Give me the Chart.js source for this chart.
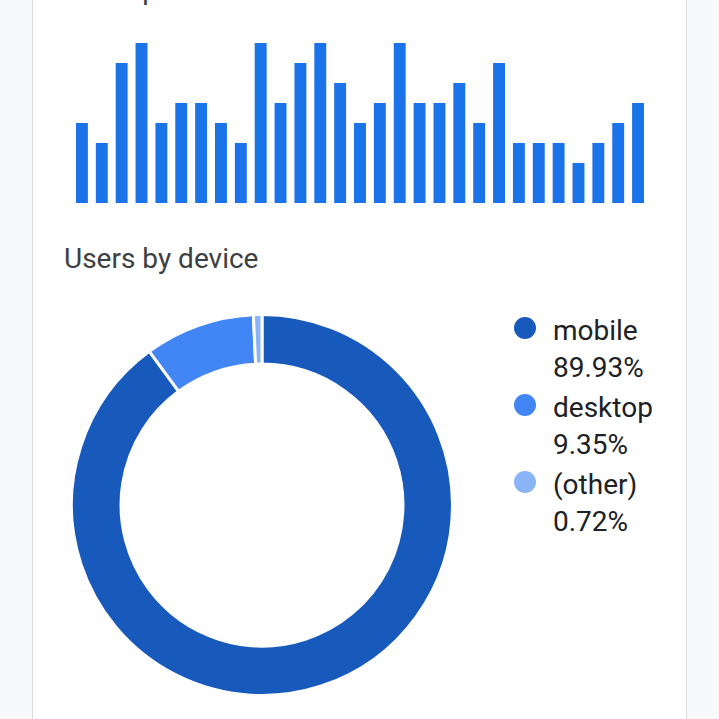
<!DOCTYPE html>
<html>
<head>
<meta charset="utf-8">
<script src="https://cdn.jsdelivr.net/npm/chart.js@4.4.1/dist/chart.umd.min.js"></script>
<style>
  html, body { margin: 0; padding: 0; }
  body { width: 719px; height: 719px; background: #f8f9fa; overflow: hidden; position: relative; font-family: Roboto, "Noto Sans", sans-serif; }
  .card { position: absolute; left: 32px; top: -10px; width: 653px; height: 740px; background: #fff; border-left: 1px solid #dadce0; border-right: 1px solid #dadce0; }
  .title { position: absolute; left: 64px; font-size: 28px; line-height: 34px; color: #3c4043; white-space: nowrap; }
  #barBox { position: absolute; left: 72px; top: 43px; width: 576px; height: 160px; }
  #pieBox { position: absolute; left: 70px; top: 313px; width: 384px; height: 384px; }
  #legend { position: absolute; left: 514px; top: 312px; color: #202124; font-size: 28px; line-height: 37px; }
  .item { position: relative; padding-left: 39px; margin-bottom: 3px; }
  .dot { position: absolute; left: 0; top: 5px; width: 22px; height: 22px; border-radius: 50%; }
</style>
</head>
<body>
<div class="card"></div>
<div class="title" style="top:-27px">Users per minute</div>
<div id="barBox"><canvas id="barChart"></canvas></div>
<div class="title" style="top:242px">Users by device</div>
<div id="pieBox"><canvas id="pieChart"></canvas></div>
<div id="legend"></div>
<script>
// users per minute (last 30 min)
const minuteLabels = [];
for (let i = 29; i >= 1; i--) minuteLabels.push(i + ' min');
const minuteUsers = [4, 3, 7, 8, 4, 5, 5, 4, 3, 8, 5, 7, 8, 6, 4, 5, 8, 5, 5, 6, 4, 7, 3, 3, 3, 2, 3, 4, 5];

// users by device
const devices = ['mobile', 'desktop', '(other)'];
const deviceShare = [89.93, 9.35, 0.72];
const deviceColors = ['#185abc', '#4285f4', '#8ab4f8'];

new Chart(document.getElementById('barChart'), {
    type: 'bar',
    data: {
        labels: minuteLabels,
        datasets: [{
            data: minuteUsers,
            backgroundColor: '#1a73e8',
            categoryPercentage: 1,
            barPercentage: 0.6
        }]
    },
    options: {
        responsive: true,
        maintainAspectRatio: false,
        animation: false,
        layout: { padding: 0 },
        plugins: { legend: { display: false }, tooltip: { enabled: false } },
        scales: {
            x: { display: false },
            y: { display: false, min: 0, max: 8 }
        }
    }
});

new Chart(document.getElementById('pieChart'), {
    type: 'doughnut',
    data: {
        labels: devices,
        datasets: [{
            data: deviceShare,
            backgroundColor: deviceColors,
            borderColor: '#ffffff',
            borderWidth: 3
        }]
    },
    options: {
        responsive: true,
        maintainAspectRatio: false,
        animation: false,
        cutout: '74%',
        plugins: { legend: { display: false }, tooltip: { enabled: false } }
    }
});

// legend
const legend = document.getElementById('legend');
devices.forEach((name, i) => {
    const item = document.createElement('div');
    item.className = 'item';
    item.innerHTML = `<span class="dot" style="background:${deviceColors[i]}"></span>${name}<br>${deviceShare[i].toFixed(2)}%`;
    legend.appendChild(item);
});
</script>
</body>
</html>
